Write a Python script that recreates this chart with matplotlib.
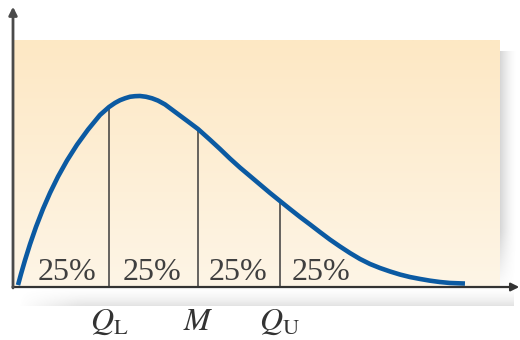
import numpy as np
import matplotlib
matplotlib.use('Agg')
import matplotlib.pyplot as plt
from matplotlib.colors import to_rgb

plt.rcParams['mathtext.fontset'] = 'stix'

# ---------- dados ----------
# curva de densidade assimétrica (unidades arbitrárias, pico ~ 1)
curve_x = [0.111, 0.178, 0.267, 0.378, 0.511, 0.667, 0.822, 1.000, 1.200,
           1.422, 1.667, 1.933, 2.133, 2.267, 2.378, 2.489, 2.600, 2.711,
           2.822, 2.956, 3.089, 3.222, 3.378, 3.533, 3.711, 3.889, 4.111,
           4.378, 4.600, 4.822, 5.044, 5.267, 5.489, 5.711, 5.933, 6.156,
           6.378, 6.600, 6.822, 7.044, 7.267, 7.489, 7.711, 7.933, 8.156,
           8.378, 8.600, 8.822, 9.044, 9.267, 9.489, 9.711, 10.044]
curve_y = [0.010, 0.068, 0.140, 0.223, 0.313, 0.407, 0.490, 0.575, 0.659,
           0.741, 0.820, 0.896, 0.9375, 0.959, 0.973, 0.983, 0.991, 0.994,
           0.995, 0.991, 0.983, 0.971, 0.951, 0.924, 0.893, 0.862, 0.823,
           0.767, 0.719, 0.669, 0.622, 0.578, 0.534, 0.490, 0.448, 0.406,
           0.365, 0.326, 0.286, 0.247, 0.211, 0.177, 0.146, 0.120, 0.099,
           0.081, 0.065, 0.052, 0.042, 0.033, 0.026, 0.021, 0.018]

# quartis (Q_L, M, Q_U) e altura da curva em cada um
quartile_x = [2.133, 4.111, 5.933]
quartile_y = [0.9375, 0.823, 0.448]
quartile_labels = [r'$Q_{\mathrm{L}}$', r'$M$', r'$Q_{\mathrm{U}}$']

# rótulos das áreas
pct_x = [1.20, 3.09, 5.00, 6.84]
pct_labels = ['25%', '25%', '25%', '25%']

# ---------- figura ----------
fig = plt.figure(figsize=(5.2, 3.4), dpi=100)
ax = fig.add_axes([0, 0, 1, 1])
ax.set_xlim(-0.289, 11.267)
ax.set_ylim(-0.276, 1.495)
ax.axis('off')

panel_right = 10.82
panel_top = 1.286

# sombra à direita do painel
n = 60
sh = np.zeros((n, n, 4))
sh[..., :3] = 0.5
fade_x = np.linspace(1.0, 0.0, n) ** 1.6
fade_y = np.clip(np.linspace(0.0, 1.0, n) * 4, 0, 1)[:, None]  # entra suave no topo
sh[..., 3] = 0.32 * fade_x[None, :] * fade_y[::-1]
ax.imshow(sh, extent=(panel_right, panel_right + 0.36, -0.02, panel_top - 0.06),
          aspect='auto', zorder=0, interpolation='bilinear')

# sombra abaixo do eixo x
sh2 = np.zeros((n, n, 4))
sh2[..., :3] = 0.5
fv = np.linspace(0.0, 1.0, n) ** 1.8
fh = np.clip(np.linspace(0, 1, n) * 8, 0, 1)
sh2[..., 3] = 0.22 * fv[:, None] * fh[None, :]
ax.imshow(sh2, extent=(0.05, panel_right + 0.3, -0.10, 0.0),
          aspect='auto', zorder=0, interpolation='bilinear')

# painel com gradiente
top = np.array(to_rgb('#fde8c4'))
bot = np.array(to_rgb('#fef5e6'))
t = np.linspace(0, 1, 100)[:, None]
grad = (top * (1 - t) + bot * t)[:, None, :]
ax.imshow(grad, extent=(0, panel_right, 0, panel_top), aspect='auto',
          zorder=1, interpolation='bilinear')

# linhas dos quartis
for qx, qy in zip(quartile_x, quartile_y):
    ax.plot([qx, qx], [0, qy], color='#3c3c3c', lw=1.1, zorder=2)

# curva
ax.plot(curve_x, curve_y, color='#0b5aa2', lw=3.3, solid_capstyle='butt',
        solid_joinstyle='round', zorder=4)

# eixos com setas
ax.annotate('', xy=(11.25, 0), xytext=(-0.01, 0),
            arrowprops=dict(arrowstyle='-|>', color='#333333', lw=1.6,
                            mutation_scale=12, shrinkA=0, shrinkB=0), zorder=5)
ax.annotate('', xy=(0, 1.46), xytext=(0, -0.005),
            arrowprops=dict(arrowstyle='-|>', color='#4a4a4a', lw=2.0,
                            mutation_scale=12, shrinkA=0, shrinkB=0), zorder=5)

# rótulos 25%
for px, lab in zip(pct_x, pct_labels):
    ax.text(px, 0.036, lab, ha='center', va='baseline', fontsize=23,
            family='Liberation Serif', color='#3f3f3f', zorder=6)

# rótulos dos quartis
for qx, lab in zip(quartile_x, quartile_labels):
    ax.text(qx, -0.224, lab, ha='center', va='baseline', fontsize=23,
            color='#333333', zorder=6)

fig.savefig('out.png', dpi=100)
